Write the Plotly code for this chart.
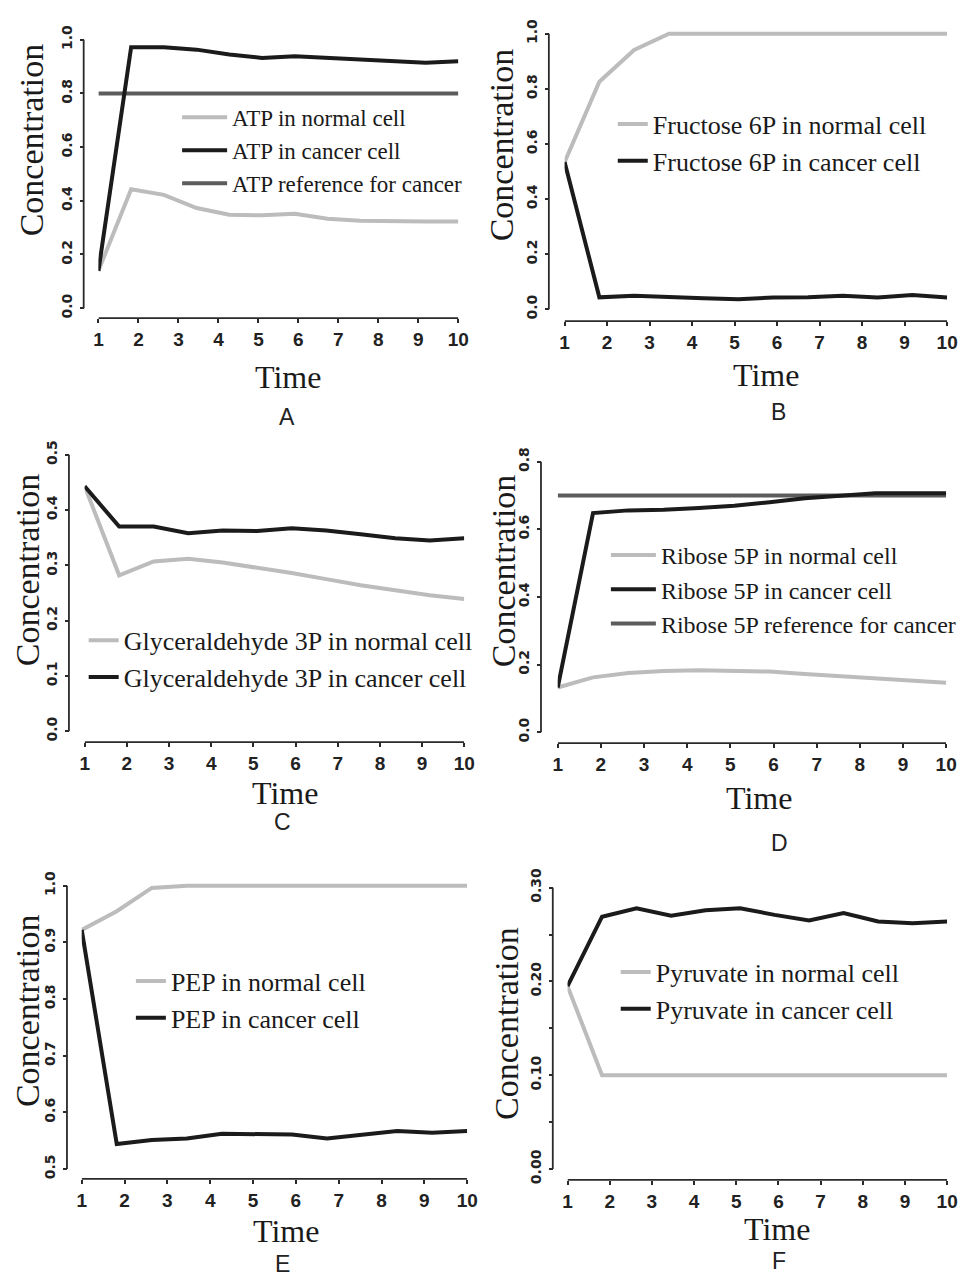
import plotly.graph_objects as go

# Sampling times (12 evenly spaced steps between 1 and 10)
time = [1.0, 1.818, 2.636, 3.455, 4.273, 5.091, 5.909, 6.727, 7.545, 8.364, 9.182, 10.0]

# A: ATP
atp_normal = [0.139, 0.443, 0.422, 0.373, 0.348, 0.346, 0.352, 0.333, 0.326, 0.323, 0.323, 0.323]
atp_cancer = [0.139, 0.972, 0.972, 0.963, 0.945, 0.932, 0.938, 0.932, 0.926, 0.922, 0.914, 0.920]
atp_reference = [0.80] * 12

# B: Fructose 6P
f6p_normal = [0.534, 0.826, 0.941, 1.0, 1.0, 1.0, 1.0, 1.0, 1.0, 1.0, 1.0, 1.0]
f6p_cancer = [0.534, 0.043, 0.049, 0.043, 0.040, 0.036, 0.042, 0.043, 0.049, 0.042, 0.051, 0.042]

# C: Glyceraldehyde 3P
g3p_normal = [0.443, 0.282, 0.307, 0.312, 0.305, 0.296, 0.286, 0.275, 0.264, 0.255, 0.246, 0.239]
g3p_cancer = [0.443, 0.370, 0.370, 0.358, 0.363, 0.362, 0.367, 0.363, 0.356, 0.349, 0.345, 0.349]

# D: Ribose 5P
r5p_normal = [0.132, 0.162, 0.175, 0.181, 0.183, 0.182, 0.179, 0.172, 0.166, 0.159, 0.153, 0.146]
r5p_cancer = [0.132, 0.648, 0.656, 0.658, 0.663, 0.670, 0.680, 0.692, 0.699, 0.707, 0.707, 0.707]
r5p_reference = [0.70] * 12

# E: PEP
pep_normal = [0.922, 0.955, 0.996, 1.0, 1.0, 1.0, 1.0, 1.0, 1.0, 1.0, 1.0, 1.0]
pep_cancer = [0.922, 0.544, 0.551, 0.554, 0.562, 0.562, 0.561, 0.554, 0.561, 0.567, 0.564, 0.567]

# F: Pyruvate
pyr_normal = [0.195, 0.100, 0.100, 0.100, 0.100, 0.100, 0.100, 0.100, 0.100, 0.100, 0.100, 0.100]
pyr_cancer = [0.195, 0.269, 0.278, 0.270, 0.276, 0.278, 0.271, 0.265, 0.273, 0.264, 0.262, 0.264]

x_ticks = [1, 2, 3, 4, 5, 6, 7, 8, 9, 10]

y_ticks_a = [0.0, 0.2, 0.4, 0.6, 0.8, 1.0]
y_text_a = ["0.0", "0.2", "0.4", "0.6", "0.8", "1.0"]
y_ticks_c = [0.0, 0.1, 0.2, 0.3, 0.4, 0.5]
y_text_c = ["0.0", "0.1", "0.2", "0.3", "0.4", "0.5"]
y_ticks_d = [0.0, 0.2, 0.4, 0.6, 0.8]
y_text_d = ["0.0", "0.2", "0.4", "0.6", "0.8"]
y_ticks_e = [0.5, 0.6, 0.7, 0.8, 0.9, 1.0]
y_text_e = ["0.5", "0.6", "0.7", "0.8", "0.9", "1.0"]
y_ticks_f = [0.0, 0.05, 0.10, 0.15, 0.20, 0.25, 0.30]
y_text_f = ["0.00", "", "0.10", "", "0.20", "", "0.30"]

W, H = 967, 1277
C_NORMAL = "#bcbcbc"
C_CANCER = "#1b1b1b"
C_REF = "#5c5c5c"
AXIS_C = "#2a2a2a"
SERIF = "Liberation Serif, Times New Roman, serif"


def px(x):
    return x / W


def py(y):
    return 1 - y / H


panels = [
    dict(letter="A", yt=y_ticks_a, ytext=y_text_a,
         series=[("ATP reference for cancer", atp_reference, C_REF, 3),
                 ("ATP in normal cell", atp_normal, C_NORMAL, 1),
                 ("ATP in cancer cell", atp_cancer, C_CANCER, 2)],
         xl=95, xr=461, yb=303, ytop=32, ax=80, ay=313,
         time=(288, 372), lab=(287, 413), conc=(27, 133),
         leg=(232, 110), legfont=23, itemw=45),
    dict(letter="B", yt=y_ticks_a, ytext=y_text_a,
         series=[("Fructose 6P in normal cell", f6p_normal, C_NORMAL, 1),
                 ("Fructose 6P in cancer cell", f6p_cancer, C_CANCER, 2)],
         xl=569, xr=958, yb=304, ytop=26, ax=553, ay=316,
         time=(774, 370), lab=(787, 408), conc=(505, 138),
         leg=(660, 117), legfont=26, itemw=30),
    dict(letter="C", yt=y_ticks_c, ytext=y_text_c,
         series=[("Glyceraldehyde 3P in normal cell", g3p_normal, C_NORMAL, 1),
                 ("Glyceraldehyde 3P in cancer cell", g3p_cancer, C_CANCER, 2)],
         xl=81, xr=467, yb=730, ytop=451, ax=65, ay=741,
         time=(285, 792), lab=(282, 822), conc=(23, 567),
         leg=(122, 638), legfont=26, itemw=30),
    dict(letter="D", yt=y_ticks_d, ytext=y_text_d,
         series=[("Ribose 5P reference for cancer", r5p_reference, C_REF, 3),
                 ("Ribose 5P in normal cell", r5p_normal, C_NORMAL, 1),
                 ("Ribose 5P in cancer cell", r5p_cancer, C_CANCER, 2)],
         xl=562, xr=957, yb=731, ytop=458, ax=545, ay=742,
         time=(767, 797), lab=(788, 843), conc=(507, 568),
         leg=(668, 552), legfont=24, itemw=45),
    dict(letter="E", yt=y_ticks_e, ytext=y_text_e,
         series=[("PEP in normal cell", pep_normal, C_NORMAL, 1),
                 ("PEP in cancer cell", pep_cancer, C_CANCER, 2)],
         xl=78, xr=470, yb=1172, ytop=886, ax=63, ay=1182,
         time=(286, 1235), lab=(282, 1268), conc=(23, 1012),
         leg=(170, 982), legfont=26, itemw=30),
    dict(letter="F", yt=y_ticks_f, ytext=y_text_f,
         series=[("Pyruvate in normal cell", pyr_normal, C_NORMAL, 1),
                 ("Pyruvate in cancer cell", pyr_cancer, C_CANCER, 2)],
         xl=572, xr=958, yb=1172, ytop=888, ax=557, ay=1183,
         time=(785, 1233), lab=(787, 1265), conc=(510, 1025),
         leg=(663, 973), legfont=26, itemw=30),
]

fig = go.Figure()
layout = dict(width=W, height=H, margin=dict(l=0, r=0, t=0, b=0),
              paper_bgcolor="white", plot_bgcolor="rgba(0,0,0,0)",
              showlegend=True)
shapes = []
annotations = []

for i, p in enumerate(panels, start=1):
    xa = "x" if i == 1 else f"x{i}"
    ya = "y" if i == 1 else f"y{i}"
    xkey = "xaxis" if i == 1 else f"xaxis{i}"
    ykey = "yaxis" if i == 1 else f"yaxis{i}"
    lkey = "legend" if i == 1 else f"legend{i}"

    ylo, yhi = p["yt"][0], p["yt"][-1]
    pad = 0.04 * (yhi - ylo)
    ppu = (p["yb"] - p["ytop"]) / (yhi - ylo)
    dom_top = p["ytop"] - pad * ppu
    dom_bot = p["yb"] + pad * ppu

    layout[xkey] = dict(
        domain=[px(p["xl"]), px(p["xr"])], range=[x_ticks[0], x_ticks[-1]],
        anchor="free", position=py(p["ay"]),
        tickmode="array", tickvals=x_ticks, ticktext=[str(v) for v in x_ticks],
        ticks="outside", ticklen=4, tickwidth=1.5, tickcolor=AXIS_C,
        showline=False, showgrid=False, zeroline=False,
        tickfont=dict(family="Liberation Sans Narrow, Arial Narrow, sans-serif",
                      size=19, color="#222", weight="bold"),
        ticklabelstandoff=0,
    )
    layout[ykey] = dict(
        domain=[py(dom_bot), py(dom_top)], range=[ylo - pad, yhi + pad],
        anchor="free", position=px(p["ax"]),
        tickmode="array", tickvals=p["yt"], ticktext=p["ytext"],
        ticks="outside", ticklen=4, tickwidth=1.5, tickcolor=AXIS_C,
        tickangle=-90,
        showline=False, showgrid=False, zeroline=False,
        tickfont=dict(family="DejaVu Sans, sans-serif", size=14,
                      color="#222", weight="bold"),
        ticklabelstandoff=2,
    )

    # R-style axis lines spanning first to last tick
    shapes.append(dict(type="line", xref="paper", yref=ya,
                       x0=px(p["ax"]), x1=px(p["ax"]), y0=ylo, y1=yhi,
                       line=dict(color=AXIS_C, width=1.8)))
    shapes.append(dict(type="line", xref=xa, yref="paper",
                       x0=x_ticks[0], x1=x_ticks[-1], y0=py(p["ay"]), y1=py(p["ay"]),
                       line=dict(color=AXIS_C, width=1.8)))

    for name, vals, color, rank in p["series"]:
        fig.add_trace(go.Scatter(
            x=time, y=vals, mode="lines", name=name,
            line=dict(color=color, width=4),
            xaxis=xa, yaxis=ya, legend=lkey, legendrank=rank,
            hoverinfo="skip",
        ))

    fs = p["legfont"]
    layout[lkey] = dict(
        x=px(p["leg"][0] - p["itemw"] - 12), y=py(p["leg"][1] - fs * 0.75 - 4),
        xanchor="left", yanchor="top",
        bgcolor="rgba(0,0,0,0)", borderwidth=0,
        font=dict(family=SERIF, size=fs, color="#1a1a1a"),
        itemwidth=p["itemw"], tracegroupgap=0,
    )

    annotations.append(dict(text="Time", xref="paper", yref="paper",
                            x=px(p["time"][0]), y=py(p["time"][1]),
                            xanchor="center", yanchor="middle", showarrow=False,
                            font=dict(family=SERIF, size=32, color="#1a1a1a")))
    annotations.append(dict(text="Concentration", xref="paper", yref="paper",
                            x=px(p["conc"][0]), y=py(p["conc"][1]), textangle=-90,
                            xanchor="center", yanchor="middle", showarrow=False,
                            font=dict(family=SERIF, size=34, color="#1a1a1a")))
    annotations.append(dict(text=p["letter"], xref="paper", yref="paper",
                            x=px(p["lab"][0]), y=py(p["lab"][1]),
                            xanchor="center", yanchor="middle", showarrow=False,
                            font=dict(family="Liberation Sans, Arial, sans-serif",
                                      size=23, color="#222")))

layout["shapes"] = shapes
layout["annotations"] = annotations
fig.update_layout(**layout)

# the figure fills the page exactly, so drop the default body margin
fig.write_html("out.html", post_script="document.body.style.margin='0px';")
